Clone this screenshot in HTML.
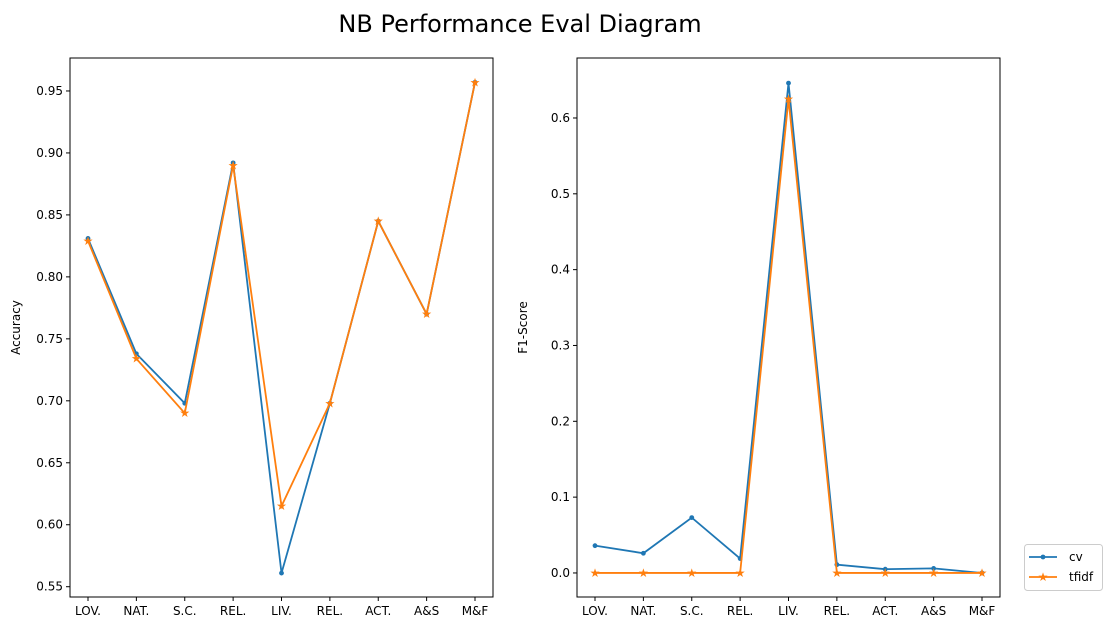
<!DOCTYPE html>
<html><head><meta charset="utf-8"><style>
body{margin:0;background:#fff;}
svg{display:block;font-family:"DejaVu Sans","Liberation Sans",sans-serif;}
</style></head><body>
<svg id="chart" width="1112" height="631" xmlns="http://www.w3.org/2000/svg">
<text x="520" y="32" font-size="24" text-anchor="middle">NB Performance Eval Diagram</text>
</svg>
<script>
const categories=["LOV.","NAT.","S.C.","REL.","LIV.","REL.","ACT.","A&S","M&F"];
const accCv=[0.831,0.738,0.698,0.892,0.561,0.698,0.845,0.770,0.957];
const accTfidf=[0.829,0.734,0.690,0.890,0.615,0.698,0.845,0.770,0.957];
const f1Cv=[0.036,0.026,0.073,0.019,0.646,0.011,0.005,0.006,0.0];
const f1Tfidf=[0,0,0,0,0.625,0,0,0,0];
const accTicks=[0.55,0.60,0.65,0.70,0.75,0.80,0.85,0.90,0.95];
const f1Ticks=[0.0,0.1,0.2,0.3,0.4,0.5,0.6];
const NS="http://www.w3.org/2000/svg";
const svg=document.getElementById('chart');
function mk(tag,attrs,parent){const e=document.createElementNS(NS,tag);for(const k in attrs)e.setAttribute(k,attrs[k]);(parent||svg).appendChild(e);return e;}
function panel(x0,x1,y0,y1,ymin,ymax,ticks,dec,ylabel,s1,s2,name){
  const g=mk('g',{});
  
  
  const n=categories.length;
  const xs=i=>x0+18+i*((x1-x0-36)/(n-1));
  const ys=v=>y1-(v-ymin)/(ymax-ymin)*(y1-y0);
  const r=mk('rect',{x:x0,y:y0,width:x1-x0,height:y1-y0,fill:'none',stroke:'#000','stroke-width':1},g);
  
  
  ticks.forEach(t=>{const y=ys(t);
    mk('line',{x1:x0-4,x2:x0,y1:y,y2:y,stroke:'#000'},g);
    const tx=mk('text',{x:x0-7,y:y+4,'font-size':12,'text-anchor':'end'},g);tx.textContent=t.toFixed(dec);
    
    });
  categories.forEach((c,i)=>{const x=xs(i);
    mk('line',{x1:x,x2:x,y1:y1,y2:y1+4,stroke:'#000'},g);
    const tx=mk('text',{x:x,y:y1+18,'font-size':12,'text-anchor':'middle'},g);tx.textContent=c;
    
    });
  const yl=mk('text',{x:0,y:0,'font-size':12,'text-anchor':'middle',transform:`translate(${x0-50},${(y0+y1)/2}) rotate(-90)`},g);yl.textContent=ylabel;
  
  
  [[s1,'#1f77b4','dot','cv'],[s2,'#ff7f0e','star','tfidf']].forEach(([s,col,m,nm])=>{
    const pl=mk('polyline',{points:s.map((v,i)=>xs(i)+','+ys(v)).join(' '),fill:'none',stroke:col,'stroke-width':1.8},g);
    
    
    s.forEach((v,i)=>{const x=xs(i),y=ys(v);let e;
      if(m==='dot')e=mk('circle',{cx:x,cy:y,r:2.4,fill:col},g);
      else e=mk('text',{x:x,y:y+4,'font-size':12,'text-anchor':'middle',fill:col},g),e.textContent='★';
      
      });
  });
}
panel(70,493,58,597,0.5417,0.9766,accTicks,2,'Accuracy',accCv,accTfidf,'accuracy-chart');
panel(577,1000,58,597,-0.0317,0.6791,f1Ticks,1,'F1-Score',f1Cv,f1Tfidf,'f1-chart');
const lg=mk('g',{});


mk('rect',{x:1024.5,y:544.5,width:78,height:46,rx:3,fill:'#fff',stroke:'#ccc'},lg);
mk('line',{x1:1029,x2:1057,y1:557,y2:557,stroke:'#1f77b4','stroke-width':1.8},lg);
mk('circle',{cx:1043,cy:557,r:2.4,fill:'#1f77b4'},lg);
let t=mk('text',{x:1069,y:561,'font-size':12},lg);t.textContent='cv';


mk('line',{x1:1029,x2:1057,y1:577,y2:577,stroke:'#ff7f0e','stroke-width':1.8},lg);
let s=mk('text',{x:1043,y:581,'font-size':12,'text-anchor':'middle',fill:'#ff7f0e'},lg);s.textContent='★';
t=mk('text',{x:1069,y:581,'font-size':12},lg);t.textContent='tfidf';


</script>
</body></html>
